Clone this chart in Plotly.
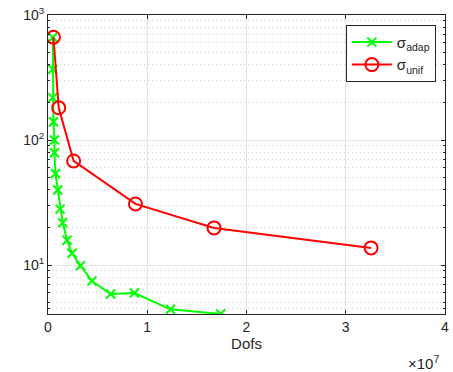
import plotly.graph_objects as go

# data
adap_dofs = [4.8e5, 4.8e5, 4.8e5, 5.5e5, 6.5e5, 6.5e5, 7.5e5, 9.8e5, 1.22e6, 1.48e6,
             1.92e6, 2.42e6, 3.28e6, 4.42e6, 6.31e6, 8.71e6, 1.234e7, 1.74e7]
adap_sigma = [664, 368, 218, 140, 100, 79, 54, 39.8, 28, 21.8,
              15.8, 12.4, 9.87, 7.45, 5.86, 5.97, 4.42, 4.06]
unif_dofs = [5.5e5, 1.08e6, 2.58e6, 8.81e6, 1.673e7, 3.255e7]
unif_sigma = [664, 181, 68, 30.8, 19.8, 13.7]

x_tickvals = [0, 1e7, 2e7, 3e7, 4e7]
x_ticktext = ["0", "1", "2", "3", "4"]
y_tickvals = [10, 100, 1000]
y_ticktext = ["10<sup>1</sup>", "10<sup>2</sup>", "10<sup>3</sup>"]
y_minor = [m * d for d in [1, 10, 100] for m in range(2, 10)] + [4.5]

FONT = "Liberation Sans, Arial, Helvetica, sans-serif"

fig = go.Figure()
fig.add_trace(go.Scatter(
    x=adap_dofs, y=adap_sigma, mode="lines+markers", name="σ<sub>adap</sub>",
    line=dict(color="#00ff00", width=2),
    marker=dict(symbol="x-thin-open", size=9, color="#00ff00",
                line=dict(color="#00ff00", width=2)),
))
fig.add_trace(go.Scatter(
    x=unif_dofs, y=unif_sigma, mode="lines+markers", name="σ<sub>unif</sub>",
    line=dict(color="#ff0000", width=2),
    marker=dict(symbol="circle-open", size=13, color="#ff0000",
                line=dict(color="#ff0000", width=2)),
))

fig.update_layout(
    width=453, height=372,
    margin=dict(l=48, r=4, t=15, b=58),
    paper_bgcolor="white", plot_bgcolor="white",
    font=dict(family=FONT, size=14, color="#262626"),
    showlegend=True,
    legend=dict(x=0.977, y=0.967, xanchor="right", yanchor="top",
                bgcolor="white", bordercolor="#262626", borderwidth=1,
                font=dict(size=15), tracegroupgap=6, itemwidth=40),
    xaxis=dict(
        range=[0, 4e7], tickvals=x_tickvals, ticktext=x_ticktext,
        ticklabeloverflow="allow",
        showline=True, linecolor="#262626", linewidth=1, mirror="ticks",
        ticks="inside", ticklen=4, tickcolor="#262626",
        showgrid=True, gridcolor="#e3e3e3", gridwidth=1, zeroline=False,
        title=dict(text="Dofs", standoff=4, font=dict(size=15)),
    ),
    yaxis=dict(
        type="log", range=[0.608, 3], tickvals=y_tickvals, ticktext=y_ticktext,
        showline=True, linecolor="#262626", linewidth=1, mirror="ticks",
        ticks="inside", ticklen=4, tickcolor="#262626",
        showgrid=True, gridcolor="#e3e3e3", gridwidth=1, zeroline=False,
        minor=dict(tickvals=y_minor, ticks="inside", ticklen=2, tickcolor="#262626",
                   showgrid=True, gridcolor="#d4d4d4", griddash="1px,3px", gridwidth=1),
    ),
)
fig.add_annotation(xref="paper", yref="paper", x=0.99, y=-0.125,
                   xanchor="right", yanchor="top", showarrow=False,
                   text="×10<sup>7</sup>", font=dict(size=15, color="#262626"))

fig.write_html("out.html")
